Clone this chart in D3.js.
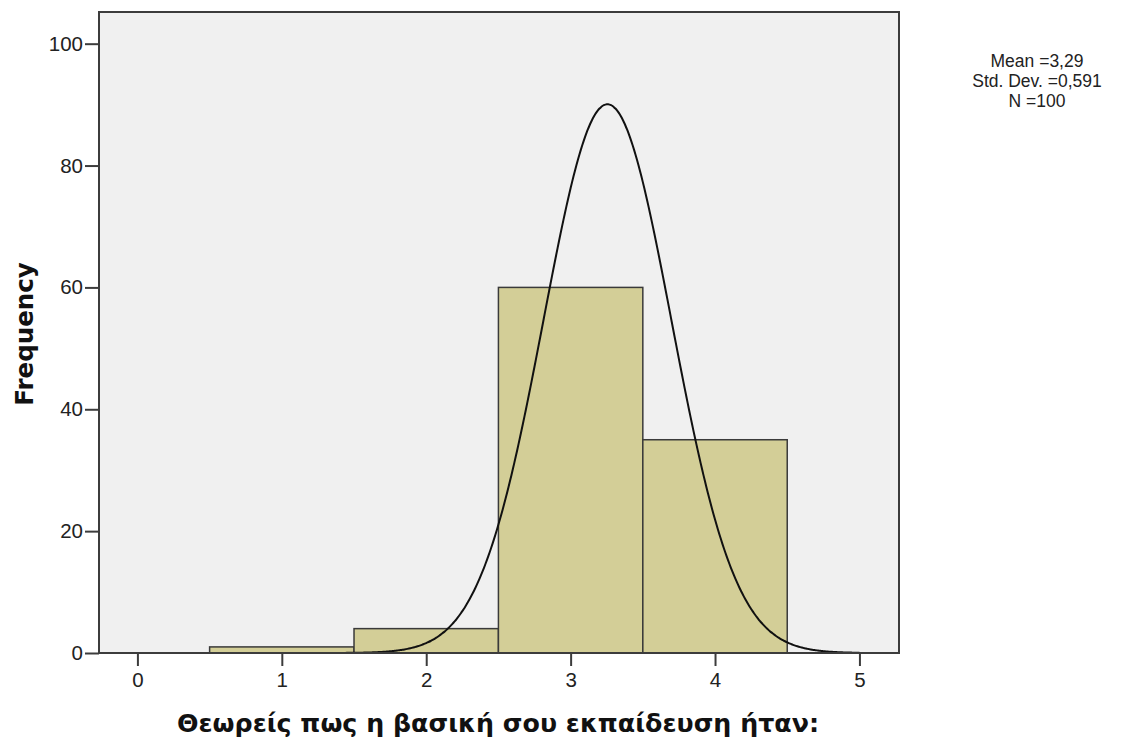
<!DOCTYPE html>
<html><head><meta charset="utf-8">
<script src="https://cdn.jsdelivr.net/npm/d3@7"></script>
<style>body{margin:0;background:#fff}svg{display:block}</style>
</head><body>
<svg id="c" width="1130" height="740"></svg>
<script>
const binCenters = [1, 2, 3, 4];
const frequencies = [1, 4, 60, 35];
const binWidth = 1;
const xTicks = [0, 1, 2, 3, 4, 5];
const yTicks = [0, 20, 40, 60, 80, 100];
const statsLines = ["Mean =3,29", "Std. Dev. =0,591", "N =100"];
const curveMean = 3.255, curveSD = 0.443, curveN = 100;
const xLabel = "Θεωρείς πως η βασική σου εκπαίδευση ήταν:";
const yLabel = "Frequency";

const svg = d3.select("#c");
const L = 99, R = 899, T = 12, B = 653;
const x = d3.scaleLinear().domain([-0.266, 5.274]).range([L, R]);
const y = d3.scaleLinear().domain([0, 105.2]).range([B, T]);

svg.append("rect").attr("x", L).attr("y", T).attr("width", R - L).attr("height", B - T)
  .attr("fill", "#f0f0f0");

svg.selectAll("rect.bar").data(binCenters).enter().append("rect").attr("class", "bar")
  .attr("x", d => x(d - binWidth / 2)).attr("width", d => x(d + binWidth / 2) - x(d - binWidth / 2))
  .attr("y", (d, i) => y(frequencies[i])).attr("height", (d, i) => y(0) - y(frequencies[i]))
  .attr("fill", "#d3ce97").attr("stroke", "#3a3a3a").attr("stroke-width", 1.5);

const pts = d3.range(0, 5.0001, 0.01).map(v => [v,
  curveN * binWidth / (curveSD * Math.sqrt(2 * Math.PI)) * Math.exp(-0.5 * Math.pow((v - curveMean) / curveSD, 2))]);
svg.append("path").datum(pts)
  .attr("d", d3.line().x(d => x(d[0])).y(d => y(d[1])).curve(d3.curveBasis))
  .attr("fill", "none").attr("stroke", "#111").attr("stroke-width", 2);

svg.append("rect").attr("x", L).attr("y", T).attr("width", R - L).attr("height", B - T)
  .attr("fill", "none").attr("stroke", "#3c3c3c").attr("stroke-width", 2);

const fontTick = "'Liberation Sans', Arial, sans-serif";
const yAxis = svg.append("g").attr("transform", `translate(${L},0)`)
  .call(d3.axisLeft(y).tickValues(yTicks).tickSize(14).tickPadding(2).tickFormat(d3.format("d")));
const xAxis = svg.append("g").attr("transform", `translate(0,${B})`)
  .call(d3.axisBottom(x).tickValues(xTicks).tickSize(13).tickPadding(6).tickFormat(d3.format("d")));
[yAxis, xAxis].forEach(a => {
  a.select(".domain").remove();
  a.selectAll("line").attr("stroke", "#3c3c3c").attr("stroke-width", 2);
  a.selectAll("text").attr("font-family", fontTick).attr("font-size", 20.5).attr("fill", "#222");
});

svg.append("text").attr("transform", "translate(33,334) rotate(-90)")
  .attr("text-anchor", "middle").attr("font-family", "'DejaVu Sans', Verdana, sans-serif")
  .attr("font-weight", "bold").attr("font-size", 24.5).attr("fill", "#111").text(yLabel);
svg.append("text").attr("x", 498).attr("y", 732)
  .attr("text-anchor", "middle").attr("font-family", "'DejaVu Sans', Verdana, sans-serif")
  .attr("font-weight", "bold").attr("font-size", 25.3).attr("fill", "#111").text(xLabel);

svg.append("g").selectAll("text").data(statsLines).enter().append("text")
  .attr("x", 1037).attr("y", (d, i) => 67 + i * 20)
  .attr("text-anchor", "middle").attr("font-family", fontTick).attr("font-size", 17.5)
  .attr("fill", "#222").text(d => d);
</script>
</body></html>
